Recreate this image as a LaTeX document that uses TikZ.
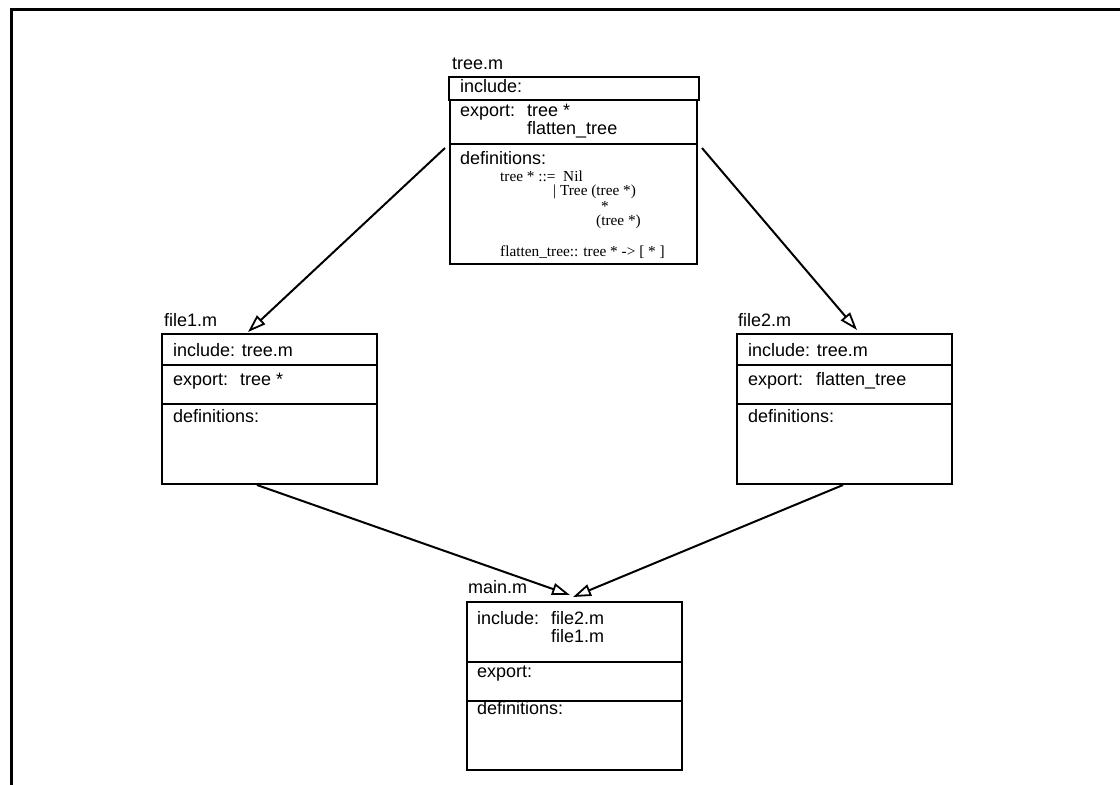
\documentclass[tikz,border=0pt]{standalone}
\usepackage{fontspec}
\setmainfont{Liberation Sans}
\newfontfamily\serifsmall{Liberation Serif}
\usetikzlibrary{arrows.meta}
\begin{document}
\begin{tikzpicture}[x=1pt,y=-1pt,
  box/.style={draw,line width=2.6pt,anchor=north west,inner sep=0pt,outer sep=0pt},
  txt/.style={anchor=base west,inner sep=0pt,font=\fontsize{18}{20}\selectfont},
  stxt/.style={anchor=base west,inner sep=0pt,font=\serifsmall\fontsize{15.3}{17}\selectfont},
  divider/.style={line width=2.6pt},
  dep/.style={line width=2pt,-{Triangle[open,length=18pt,width=12pt,line width=1.8pt]}}]
\useasboundingbox (0,0) rectangle (1120,785);
\draw[line width=3pt] (11,785) -- (11,9) -- (1121,9);

% tree.m
\node[txt] (treelbl) at (452,69) {tree.m};
\node[box,minimum width=250,minimum height=23] (treeinc) at (449,77) {};
\node[box,minimum width=247,minimum height=164] (tree) at (450,100) {};
\draw[divider] (tree.west |- 0,144) -- (tree.east |- 0,144);
\node[txt] (treeinct) at (460,92) {include:};
\node[txt] (treeexp) at (460,116) {export:};
\node[txt] (treeexp1) at (527,116) {tree *};
\node[txt] (treeexp2) at (527,134) {flatten\_tree};
\node[txt] (treedef) at (460,164) {definitions:};
\node[stxt] (d1) at (500,181) {tree * ::=};
\node[stxt] (d1b) at (563,181) {Nil};
\node[stxt] (d2) at (553,195) {| Tree (tree *)};
\node[stxt] (d3) at (601,211) {*};
\node[stxt] (d4) at (596,225) {(tree *)};
\node[stxt] (d5) at (500,256) {flatten\_tree:: tree * -> [ * ]};

% file1.m
\node[txt] (f1lbl) at (164,326) {file1.m};
\node[box,minimum width=215,minimum height=150] (f1) at (162,334) {};
\draw[divider] (f1.west |- 0,365) -- (f1.east |- 0,365);
\draw[divider] (f1.west |- 0,404) -- (f1.east |- 0,404);
\node[txt] (f1inc) at (173,356) {include: tree.m};
\node[txt] (f1exp) at (173,385) {export:};
\node[txt] (f1exp1) at (240,385) {tree *};
\node[txt] (f1def) at (173,422) {definitions:};

% file2.m
\node[txt] (f2lbl) at (738,326) {file2.m};
\node[box,minimum width=215,minimum height=150] (f2) at (737,334) {};
\draw[divider] (f2.west |- 0,365) -- (f2.east |- 0,365);
\draw[divider] (f2.west |- 0,404) -- (f2.east |- 0,404);
\node[txt] (f2inc) at (748,356) {include: tree.m};
\node[txt] (f2exp) at (748,385) {export:};
\node[txt] (f2exp1) at (816,385) {flatten\_tree};
\node[txt] (f2def) at (748,422) {definitions:};

% main.m
\node[txt] (mlbl) at (468,593) {main.m};
\node[box,minimum width=215,minimum height=168] (mn) at (467,602) {};
\draw[divider] (mn.west |- 0,662) -- (mn.east |- 0,662);
\draw[divider] (mn.west |- 0,701) -- (mn.east |- 0,701);
\node[txt] (minc) at (477,624) {include:};
\node[txt] (minc1) at (551,624) {file2.m};
\node[txt] (minc2) at (551,642) {file1.m};
\node[txt] (mexp) at (477,677) {export:};
\node[txt] (mdef) at (477,714) {definitions:};

% connectors
\draw[dep] ([shift={(-5,48)}]tree.north west) -- ([shift={(86,-2)}]f1.north west);
\draw[dep] ([shift={(5,48)}]tree.north east) -- ([shift={(120,-4)}]f2.north west);
\draw[dep] ([shift={(95,1)}]f1.south west) -- ([shift={(103,-7)}]mn.north west);
\draw[dep] ([shift={(106,1)}]f2.south west) -- ([shift={(106,-5)}]mn.north west);
\end{tikzpicture}
\end{document}
